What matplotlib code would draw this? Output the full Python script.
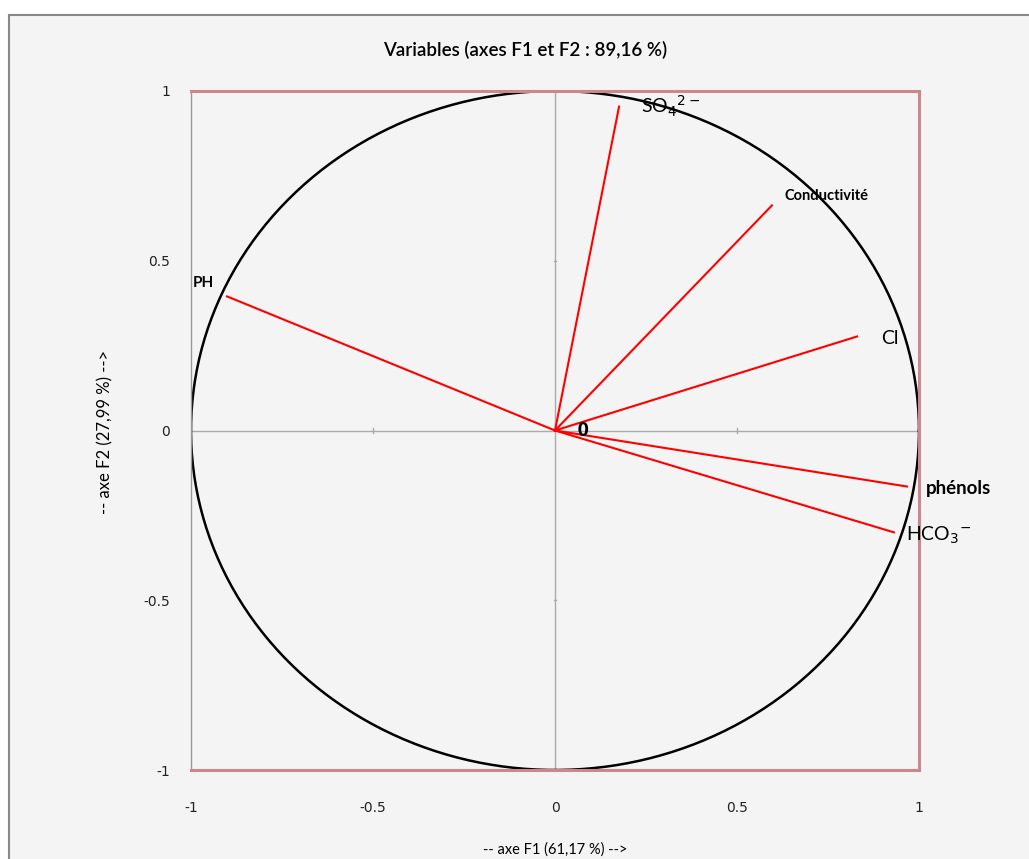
import matplotlib
matplotlib.use("Agg")
import matplotlib.pyplot as plt
import numpy as np
from matplotlib.patches import Rectangle

variables = ["SO4", "Conductivité", "Cl", "PH", "phénols", "HCO3"]
f1 = [0.176, 0.596, 0.830, -0.901, 0.967, 0.931]
f2 = [0.954, 0.663, 0.277, 0.395, -0.165, -0.300]
labels = [r"SO$_4$$^{2-}$", "Conductivité", "Cl", "PH", "phénols", r"HCO$_3$$^{-}$"]
label_pos = [(0.235, 0.955), (0.63, 0.69), (0.895, 0.27), (-0.995, 0.435), (1.02, -0.17), (0.965, -0.31)]
label_size = [14, 10.5, 14, 11, 13.5, 14]
label_weight = ["normal", "bold", "normal", "bold", "bold", "normal"]
ticks = [-1, -0.5, 0, 0.5, 1]
tick_labels = ["-1", "-0.5", "0", "0.5", "1"]

bg = "#f4f4f4"
fig = plt.figure(figsize=(10.29, 8.59), dpi=100)
fig.patch.set_facecolor("white")
fig.patches.append(Rectangle((9/1029, -0.01), 1.02, 1 - 15/859 + 0.01, transform=fig.transFigure,
                             facecolor=bg, edgecolor="#888888", linewidth=1.5, zorder=-10))

ax = fig.add_axes([191/1029, 1 - 770/859, (919-191)/1029, (770-91)/859])
ax.set_facecolor(bg)
ax.set_xlim(-1, 1)
ax.set_ylim(-1, 1)

for s in ["top", "right", "bottom"]:
    ax.spines[s].set_color("#cc8888")
    ax.spines[s].set_linewidth(2.2)
ax.spines["left"].set_color("#999999")
ax.spines["left"].set_linewidth(1)
ax.tick_params(length=0, labelsize=10, colors="#222222")
ax.tick_params(axis="x", pad=22)
ax.tick_params(axis="y", pad=15)
ax.set_xticks(ticks)
ax.set_xticklabels(tick_labels)
ax.set_yticks(ticks)
ax.set_yticklabels(tick_labels)

# central axes
ax.axhline(0, color="#aaaaaa", lw=1, zorder=1)
ax.axvline(0, color="#aaaaaa", lw=1, zorder=1)
for t in [-0.5, 0.5]:
    ax.plot([t, t], [-0.006, 0.006], color="#aaaaaa", lw=1)
    ax.plot([-0.004, 0.004], [t, t], color="#aaaaaa", lw=1)

theta = np.linspace(0, 2*np.pi, 400)
ax.plot(np.cos(theta), np.sin(theta), color="black", lw=1.8, zorder=2)

for x, y in zip(f1, f2):
    ax.plot([0, x], [0, y], color="red", lw=1.5, zorder=3)

for lab, (lx, ly), fs, fw in zip(labels, label_pos, label_size, label_weight):
    ax.text(lx, ly, lab, fontsize=fs, fontweight=fw, family="Lato", ha="left", va="center", zorder=4)

ax.text(0.077, 0.0, "0", fontsize=13, fontweight="heavy", family="Lato", ha="center", va="center", zorder=4)

fig.text(525/1029, 1 - 50/859, "Variables (axes F1 et F2 : 89,16 %)", fontsize=13.5,
         family="Lato", fontweight="semibold", ha="center", va="center")
fig.text(555/1029, 1 - 850/859, "-- axe F1 (61,17 %) -->", fontsize=10.5, family="Lato",
         ha="center", va="center")
fig.text(105/1029, 1 - 432/859, "-- axe F2 (27,99 %) -->", fontsize=12, family="Lato",
         ha="center", va="center", rotation=90)

fig.savefig("out.png", dpi=100, facecolor=fig.get_facecolor())
